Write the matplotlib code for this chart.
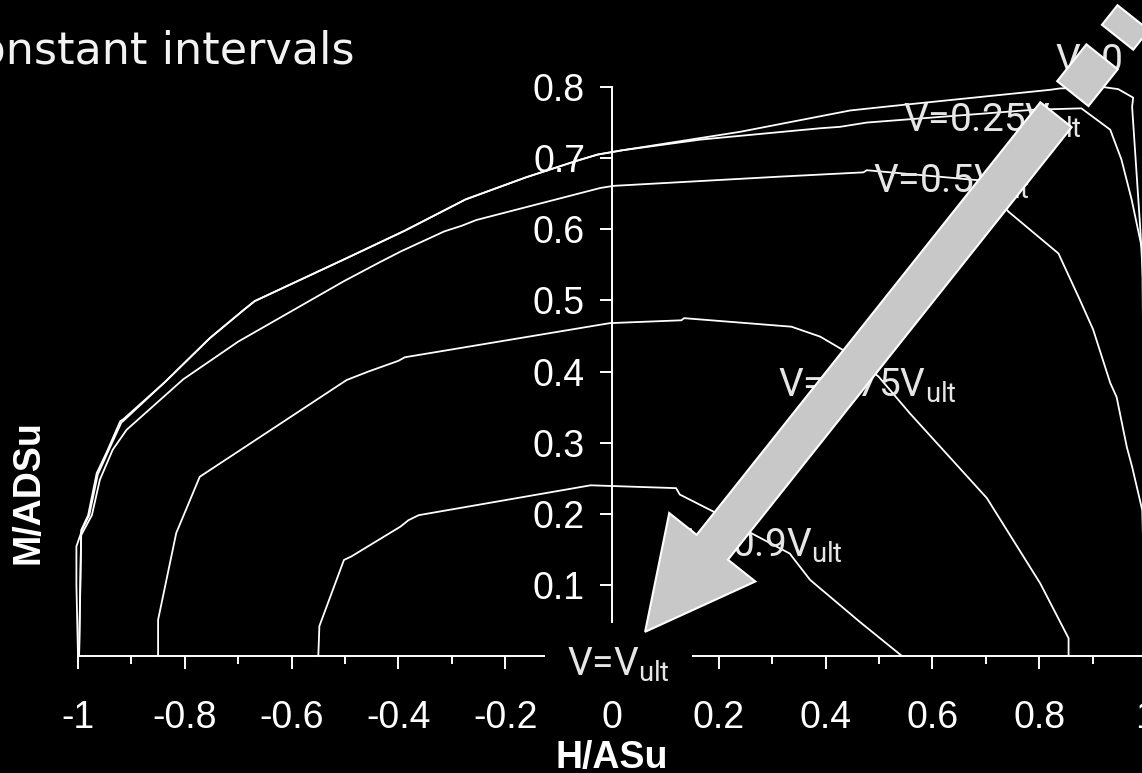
import numpy as np
import matplotlib
matplotlib.use('Agg')
import matplotlib.pyplot as plt
from matplotlib.patches import Polygon, Rectangle
from matplotlib.transforms import IdentityTransform

# interaction curves, H/ASu (x) and M/ADSu (y), one pair of lists per V level
h_v0 = [-0.998, -0.994, -0.981, -0.965, -0.946, -0.921, -0.915, -0.836, -0.753, -0.689, -0.669, -0.495,
        -0.388, -0.274, -0.161, -0.067, -0.027, 0.019, 0.24, 0.446, 0.521, 0.82, 0.839, 0.919, 0.948,
        0.976, 0.974, 0.989, 0.998, 1.0]
m_v0 = [0.0, 0.177, 0.198, 0.257, 0.287, 0.330, 0.333, 0.386, 0.447, 0.487, 0.499, 0.560,
        0.598, 0.642, 0.673, 0.696, 0.705, 0.711, 0.737, 0.767, 0.773, 0.796, 0.798, 0.800, 0.797,
        0.785, 0.772, 0.604, 0.48, 0.0]

h_v25 = [-1.0, -1.003, -1.003, -0.992, -0.979, -0.963, -0.944, -0.919, -0.913, -0.836, -0.753, -0.689,
         -0.669, -0.495, -0.388, -0.274, -0.161, -0.067, -0.027, 0.019, 0.165, 0.39, 0.427, 0.477,
         0.789, 0.879, 0.933, 0.954, 0.973, 0.993, 1.0]
m_v25 = [0.0, 0.10, 0.154, 0.178, 0.198, 0.255, 0.287, 0.328, 0.332, 0.386, 0.447, 0.487,
         0.499, 0.560, 0.598, 0.642, 0.673, 0.696, 0.705, 0.711, 0.726, 0.742, 0.744, 0.750,
         0.768, 0.770, 0.740, 0.698, 0.642, 0.571, 0.0]

h_v50 = [-0.998, -0.994, -0.974, -0.959, -0.935, -0.909, -0.803, -0.70, -0.502, -0.434, -0.395, -0.314,
         -0.281, -0.254, -0.022, 0.003, 0.315, 0.471, 0.477, 0.70, 0.742, 0.836, 0.876, 0.901, 0.933,
         0.945, 0.964, 0.974, 0.993, 1.0]
m_v50 = [0.0, 0.17, 0.198, 0.248, 0.29, 0.318, 0.389, 0.442, 0.527, 0.554, 0.569, 0.597,
         0.605, 0.613, 0.658, 0.661, 0.674, 0.680, 0.683, 0.668, 0.625, 0.566, 0.501, 0.459, 0.384,
         0.364, 0.294, 0.266, 0.205, 0.0]

h_v75 = [-0.85, -0.85, -0.816, -0.772, -0.497, -0.456, -0.40, -0.388, -0.004, 0.13, 0.135, 0.336,
         0.39, 0.433, 0.499, 0.558, 0.702, 0.802, 0.855, 0.855]
m_v75 = [0.0, 0.051, 0.173, 0.252, 0.388, 0.40, 0.415, 0.42, 0.468, 0.472, 0.475, 0.463,
         0.449, 0.430, 0.393, 0.341, 0.222, 0.102, 0.025, 0.0]

h_v90 = [-0.55, -0.548, -0.502, -0.488, -0.396, -0.381, -0.362, -0.04, 0.12, 0.127, 0.19, 0.25,
         0.333, 0.34, 0.371, 0.464, 0.543]
m_v90 = [0.0, 0.042, 0.135, 0.14, 0.182, 0.191, 0.198, 0.24, 0.236, 0.227, 0.203, 0.177,
         0.144, 0.137, 0.107, 0.048, 0.0]

curves = [(h_v0, m_v0), (h_v25, m_v25), (h_v50, m_v50), (h_v75, m_v75), (h_v90, m_v90)]

# curve labels: text and where it starts (data coords, baseline)
labelTexts = ['V=0', r'V=0.25V$_{\mathrm{ult}}$', r'V=0.5V$_{\mathrm{ult}}$',
              r'V=0.75V$_{\mathrm{ult}}$', r'V=0.9V$_{\mathrm{ult}}$']
labelPos = [(0.831, 0.821), (0.545, 0.737), (0.489, 0.651), (0.311, 0.364), (0.139, 0.139)]
ultText = r'V=V$_{\mathrm{ult}}$'
ultPos = (-0.084, -0.027)

xMajor = [-1, -0.8, -0.6, -0.4, -0.2, 0, 0.2, 0.4, 0.6, 0.8, 1]
xLabels = ['-1', '-0.8', '-0.6', '-0.4', '-0.2', '0', '0.2', '0.4', '0.6', '0.8', '1']
xMinor = [-0.9, -0.7, -0.5, -0.3, -0.1, 0.1, 0.3, 0.5, 0.7, 0.9]
yTicks = [0.1, 0.2, 0.3, 0.4, 0.5, 0.6, 0.7, 0.8]
yLabels = ['0.1', '0.2', '0.3', '0.4', '0.5', '0.6', '0.7', '0.8']

# big arrow (tail centre -> tip), data coords
arrowTail = (0.8315, 0.761)
arrowTip = (0.062, 0.034)

plt.rcParams['font.family'] = ['Liberation Sans', 'DejaVu Sans']
plt.rcParams['axes.unicode_minus'] = False
plt.rcParams['mathtext.fontset'] = 'custom'
plt.rcParams['mathtext.rm'] = 'Roboto'
plt.rcParams['mathtext.it'] = 'Roboto:italic'

W, H = 1142, 773
fig = plt.figure(figsize=(W / 100, H / 100), dpi=100, facecolor='black')
# x=-1 at px 78, x=1 at px 1146 ; y=0 at px 656, y=0.8 at px 87
ax = fig.add_axes([78 / W, (H - 656) / H, 1068 / W, (656 - 87) / H])
ax.set_facecolor('black')
ax.set_xlim(-1, 1)
ax.set_ylim(0, 0.8)

for h, m in curves:
    ax.plot(h, m, color='white', lw=1.3, clip_on=False, zorder=2)

for side in ['top', 'right']:
    ax.spines[side].set_visible(False)
ax.spines['left'].set_position(('data', 0))
ax.spines['bottom'].set_position(('data', 0))
ax.spines['left'].set_bounds(0, 0.8)
for side in ['left', 'bottom']:
    ax.spines[side].set_color('white')
    ax.spines[side].set_linewidth(1.4)

ax.set_xticks(xMajor)
ax.set_xticklabels(xLabels)
ax.set_xticks(xMinor, minor=True)
ax.set_yticks(yTicks)
ax.set_yticklabels(yLabels)
ax.tick_params(axis='x', which='major', length=9, width=1.4, pad=23, colors='white', labelsize=27)
ax.tick_params(axis='x', which='minor', length=6, width=1.4, colors='white')
ax.tick_params(axis='y', which='major', length=8.4, width=1.4, pad=11, colors='white', labelsize=27)

for txt, pos in zip(labelTexts, labelPos):
    ax.text(pos[0], pos[1], txt, color='#e6e6e6', fontsize=28, family='Roboto',
            ha='left', va='baseline', zorder=3, clip_on=False)

# black box under the V=Vult label hides the axes crossing
ax.add_patch(Rectangle((-0.1255, -0.05), 0.2755, 0.096, fc='black', ec='none',
                       zorder=3.5, clip_on=False))
ax.text(ultPos[0], ultPos[1], ultText, color='#e6e6e6', fontsize=28, family='Roboto',
        ha='left', va='baseline', zorder=4, clip_on=False)

# axis titles
fig.text(612 / W, 5 / H, 'H/ASu', color='white', fontsize=27, fontweight='bold',
         ha='center', va='baseline')
fig.text(29 / W, (H - 492) / H, 'M/ADSu', color='white', fontsize=27, fontweight='bold',
         rotation=90, ha='center', va='center')

# slide text, cut at the left edge
fig.text(354 / W, (H - 63) / H, 'constant intervals', color='#f2f2f2', fontsize=32,
         family='DejaVu Sans', ha='right', va='baseline')

# striped arrow, built in pixels so it keeps its shape
tip = ax.transData.transform(arrowTip)
tail = ax.transData.transform(arrowTail)
u = (tail - tip) / np.hypot(*(tail - tip))
n = np.array([-u[1], u[0]])
shaftHalf, headHalf, headLen = 20, 55, 108
base = tip + u * headLen
arrowPts = [tip, base + n * headHalf, base + n * shaftHalf, tail + n * shaftHalf,
            tail - n * shaftHalf, base - n * shaftHalf, base - n * headHalf]
fig.add_artist(Polygon(arrowPts, closed=True, transform=IdentityTransform(),
                       fc='#c8c8c8', ec='white', lw=1.5, zorder=6))
for start, length in [(27, 47), (99, 25)]:
    a = tail + u * start
    b = tail + u * (start + length)
    stripe = [a + n * shaftHalf, b + n * shaftHalf, b - n * shaftHalf, a - n * shaftHalf]
    fig.add_artist(Polygon(stripe, closed=True, transform=IdentityTransform(),
                           fc='#c8c8c8', ec='white', lw=1.5, zorder=6))

fig.savefig('out.png', dpi=100, facecolor='black')
